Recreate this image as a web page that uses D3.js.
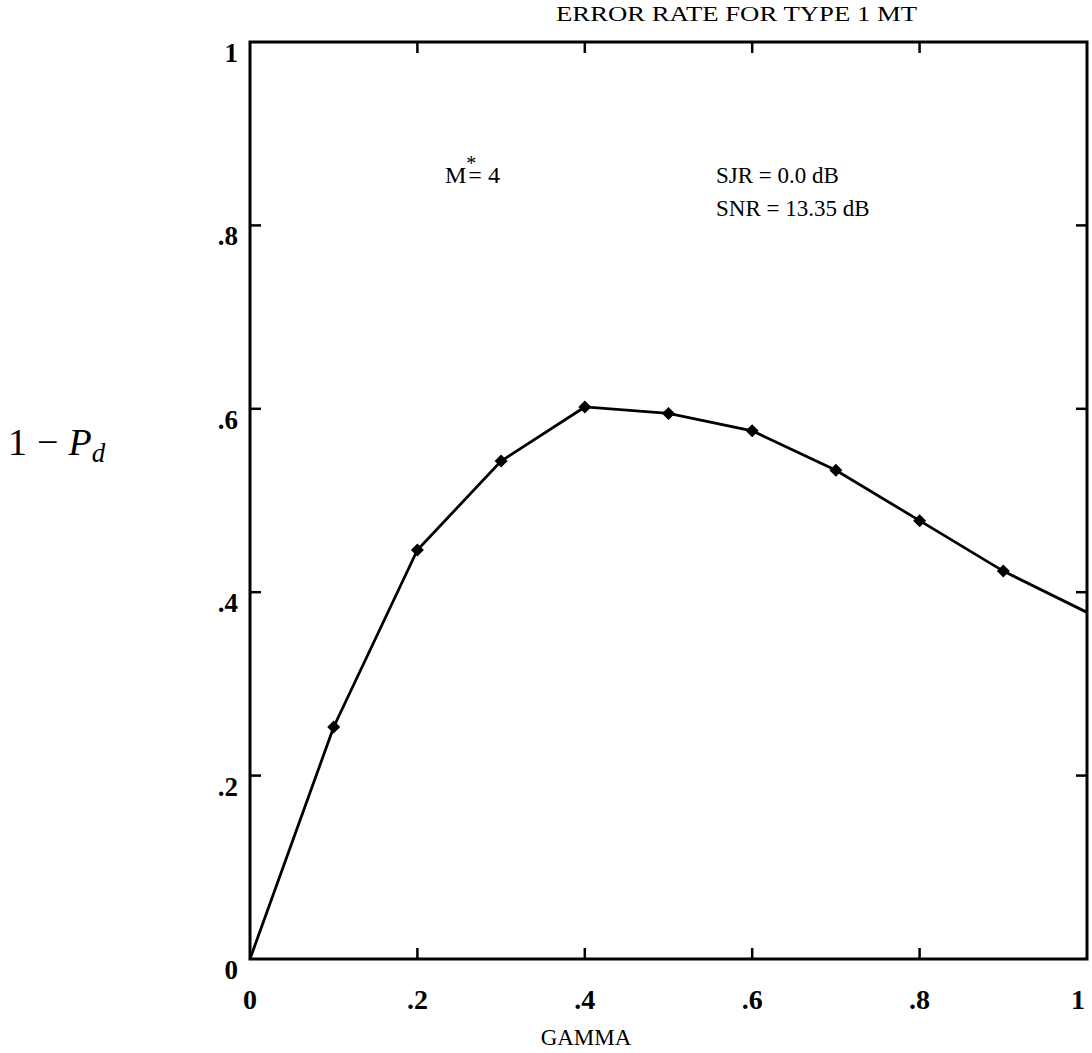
<!DOCTYPE html>
<html>
<head>
<meta charset="utf-8">
<script src="https://cdn.jsdelivr.net/npm/d3@7"></script>
<style>
  html, body { margin: 0; padding: 0; background: #fff; }
  svg { display: block; }
  text { font-family: "Liberation Serif", "Times New Roman", Times, serif; fill: #000; }
</style>
</head>
<body>
<svg id="chart" width="1092" height="1053"></svg>
<script>
// Error rate (1 - Pd) versus GAMMA
const gamma = [0, 0.1, 0.2, 0.3, 0.4, 0.5, 0.6, 0.7, 0.8, 0.9, 1.0];
const errorRate = [0, 0.253, 0.446, 0.543, 0.602, 0.595, 0.576, 0.533, 0.478, 0.423, 0.378];
const xTicks = [0, 0.2, 0.4, 0.6, 0.8, 1];
const yTicks = [0, 0.2, 0.4, 0.6, 0.8, 1];
const xTickLabels = ["0", ".2", ".4", ".6", ".8", "1"];
const yTickLabels = ["0", ".2", ".4", ".6", ".8", "1"];

const svg = d3.select("#chart");
const plotLeft = 250, plotRight = 1087, plotTop = 42, plotBottom = 959;

const x = d3.scaleLinear().domain([0, 1]).range([plotLeft, plotRight]);
const y = d3.scaleLinear().domain([0, 1]).range([plotBottom, plotTop]);

// Title
svg.append("text")
  .attr("x", 556).attr("y", 21)
  .attr("font-size", 22)
  .attr("textLength", 361)
  .attr("lengthAdjust", "spacingAndGlyphs")
  .text("ERROR RATE FOR TYPE 1 MT");

// Frame
svg.append("rect")
  .attr("x", plotLeft).attr("y", plotTop)
  .attr("width", plotRight - plotLeft).attr("height", plotBottom - plotTop)
  .attr("fill", "none").attr("stroke", "#000").attr("stroke-width", 3);

// Inward ticks on all four sides
const tickLen = 11;
const innerX = xTicks.filter(v => v > 0 && v < 1);
const innerY = yTicks.filter(v => v > 0 && v < 1);
const ticks = svg.append("g").attr("stroke", "#000").attr("stroke-width", 2.5);
innerX.forEach(v => {
  ticks.append("line").attr("x1", x(v)).attr("x2", x(v)).attr("y1", plotBottom).attr("y2", plotBottom - tickLen);
  ticks.append("line").attr("x1", x(v)).attr("x2", x(v)).attr("y1", plotTop).attr("y2", plotTop + tickLen);
});
innerY.forEach(v => {
  ticks.append("line").attr("x1", plotLeft).attr("x2", plotLeft + tickLen).attr("y1", y(v)).attr("y2", y(v));
  ticks.append("line").attr("x1", plotRight).attr("x2", plotRight - tickLen).attr("y1", y(v)).attr("y2", y(v));
});

// X tick labels (the last one is nudged in so it stays on the page)
svg.append("g").selectAll("text").data(xTicks).join("text")
  .attr("x", d => d === 1 ? x(d) - 2 : x(d))
  .attr("y", 1009)
  .attr("text-anchor", d => d === 1 ? "end" : "middle")
  .attr("font-size", 28)
  .attr("font-weight", "bold")
  .text((d, i) => xTickLabels[i]);

// Y tick labels (set just below each tick level)
svg.append("g").selectAll("text").data(yTicks).join("text")
  .attr("x", 238)
  .attr("y", d => y(d) + 20)
  .attr("text-anchor", "end")
  .attr("font-size", 27)
  .attr("font-weight", "bold")
  .text((d, i) => yTickLabels[i]);

// Axis titles
svg.append("text")
  .attr("x", 586).attr("y", 1045)
  .attr("text-anchor", "middle")
  .attr("font-size", 23)
  .text("GAMMA");

const yl = svg.append("text")
  .attr("x", 8).attr("y", 455)
  .attr("font-size", 38);
yl.append("tspan").text("1");
yl.append("tspan").attr("dx", 10).text("\u2212");
yl.append("tspan").attr("dx", 10).attr("font-style", "italic").text("P");
yl.append("tspan").attr("font-style", "italic").attr("font-size", 27).attr("dy", 7).text("d");

// Annotations
const m = svg.append("text").attr("x", 445).attr("y", 183).attr("font-size", 24);
m.append("tspan").text("M");
m.append("tspan").attr("font-size", 20).attr("dx", 0).attr("dy", -13).text("*");
m.append("tspan").attr("dx", -8).attr("dy", 13).text("= 4");

svg.append("text").attr("x", 716).attr("y", 183).attr("font-size", 23).text("SJR = 0.0 dB");
svg.append("text").attr("x", 716).attr("y", 216).attr("font-size", 23).text("SNR = 13.35 dB");

// Data curve
const pts = gamma.map((g, i) => [g, errorRate[i]]);
svg.append("path")
  .datum(pts)
  .attr("fill", "none")
  .attr("stroke", "#000")
  .attr("stroke-width", 2.8)
  .attr("d", d3.line().x(d => x(d[0])).y(d => y(d[1])));

// Diamond markers at interior data points
svg.append("g").selectAll("path").data(pts.filter(d => d[0] > 0 && d[0] < 1)).join("path")
  .attr("transform", d => `translate(${x(d[0])},${y(d[1])})`)
  .attr("d", "M0,-6.5L6.5,0L0,6.5L-6.5,0Z")
  .attr("fill", "#000");
</script>
</body>
</html>
